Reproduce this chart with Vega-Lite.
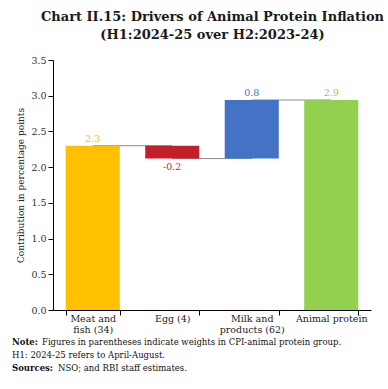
{
  "$schema": "https://vega.github.io/schema/vega-lite/v6.json",
  "padding": {"left": 12, "top": 11, "right": 6, "bottom": 4},
  "background": "white",
  "config": {"view": {"stroke": null}, "font": "DejaVu Serif"},
  "title": {
    "text": ["Chart II.15: Drivers of Animal Protein Inflation", "(H1:2024-25 over H2:2023-24)"],
    "font": "DejaVu Serif", "fontSize": 13, "fontWeight": "bold", "color": "#1a1a1a",
    "anchor": "middle", "lineHeight": 18, "offset": 13
  },
  "datasets": {
    "bars": [
      {"cat": "Meat and|fish (34)", "start": 0, "end": 2.30, "value": 2.30},
      {"cat": "Egg (4)", "start": 2.30, "end": 2.12, "value": -0.18},
      {"cat": "Milk and|products (62)", "start": 2.12, "end": 2.94, "value": 0.82},
      {"cat": "Animal protein", "start": 0, "end": 2.94, "value": 2.94}
    ],
    "links": [
      {"from": "Meat and|fish (34)", "to": "Egg (4)", "end": 2.30},
      {"from": "Egg (4)", "to": "Milk and|products (62)", "end": 2.12},
      {"from": "Milk and|products (62)", "to": "Animal protein", "end": 2.94}
    ],
    "notes": [
      {"line": 1, "prefix": "Note:", "text": "Figures in parentheses indicate weights in CPI-animal protein group."},
      {"line": 2, "prefix": "", "text": "H1: 2024-25 refers to April-August."},
      {"line": 3, "prefix": "Sources:", "text": "NSO; and RBI staff estimates."}
    ]
  },
  "spacing": 2,
  "vconcat": [
    {
      "width": 318,
      "height": 250,
      "encoding": {
        "x": {
          "field": "cat", "type": "nominal",
          "sort": ["Meat and|fish (34)", "Egg (4)", "Milk and|products (62)", "Animal protein"],
          "scale": {"domain": ["Meat and|fish (34)", "Egg (4)", "Milk and|products (62)", "Animal protein"], "paddingInner": 0.32, "paddingOuter": 0.16},
          "axis": {
            "title": null, "labelAngle": 0, "labelExpr": "split(datum.label, '|')",
            "tickBand": "extent", "domainColor": "#000", "tickColor": "#000", "tickSize": 5,
            "labelFontSize": 9.5, "labelColor": "#222", "labelPadding": -2, "labelLineHeight": 11,
            "labelFont": "DejaVu Serif"
          }
        },
        "y": {
          "field": "end", "type": "quantitative",
          "scale": {"domain": [0, 3.5]},
          "axis": {
            "values": [0, 0.5, 1, 1.5, 2, 2.5, 3, 3.5], "format": ".1f", "grid": false,
            "labelOverlap": false,
            "domainColor": "#000", "tickColor": "#000", "tickSize": 5,
            "labelFontSize": 9.5, "labelColor": "#333", "labelFont": "DejaVu Serif",
            "title": "Contribution in percentage points", "titleFontSize": 9,
            "titleFontWeight": "normal", "titleColor": "#222", "titlePadding": 5,
            "titleFont": "DejaVu Serif"
          }
        }
      },
      "layer": [
        {
          "data": {"name": "links"},
          "mark": {"type": "rule", "color": "#8c8c8c", "strokeWidth": 1},
          "encoding": {
            "x": {
              "field": "from", "type": "nominal",
              "sort": ["Meat and|fish (34)", "Egg (4)", "Milk and|products (62)", "Animal protein"]
            },
            "x2": {"field": "to"}
          }
        },
        {
          "data": {"name": "bars"},
          "mark": {"type": "bar"},
          "encoding": {
            "y2": {"field": "start"},
            "color": {
              "field": "cat", "type": "nominal",
              "scale": {
                "domain": ["Meat and|fish (34)", "Egg (4)", "Milk and|products (62)", "Animal protein"],
                "range": ["#FFC000", "#C21F2A", "#4472C4", "#92D050"]
              },
              "legend": null
            }
          }
        },
        {
          "data": {"name": "bars"},
          "transform": [
            {"filter": "datum.value >= 0"},
            {"calculate": "format(datum.value, '.1f')", "as": "lbl"}
          ],
          "mark": {"type": "text", "baseline": "bottom", "dy": -2, "fontSize": 9.5, "font": "DejaVu Serif"},
          "encoding": {
            "text": {"field": "lbl", "type": "nominal"},
            "color": {"field": "cat", "type": "nominal", "legend": null}
          }
        },
        {
          "data": {"name": "bars"},
          "transform": [
            {"filter": "datum.value < 0"},
            {"calculate": "'-' + format(abs(datum.value), '.1f')", "as": "lbl"}
          ],
          "mark": {"type": "text", "baseline": "top", "dy": 3, "fontSize": 9.5, "font": "DejaVu Serif"},
          "encoding": {
            "text": {"field": "lbl", "type": "nominal"},
            "color": {"field": "cat", "type": "nominal", "legend": null}
          }
        }
      ]
    },
    {
      "width": 360,
      "height": 38,
      "data": {"name": "notes"},
      "encoding": {
        "y": {"field": "line", "type": "ordinal", "axis": null, "scale": {"type": "point", "padding": 0.5}}
      },
      "layer": [
        {
          "mark": {"type": "text", "align": "left", "baseline": "middle", "fontSize": 8.5, "fontWeight": "bold", "dx": -41, "color": "#111", "font": "DejaVu Serif"},
          "encoding": {"x": {"value": 0}, "text": {"field": "prefix"}}
        },
        {
          "transform": [{"filter": "datum.line == 1"}],
          "mark": {"type": "text", "align": "left", "baseline": "middle", "fontSize": 8.5, "dx": -11, "color": "#111", "font": "DejaVu Serif"},
          "encoding": {"x": {"value": 0}, "text": {"field": "text"}}
        },
        {
          "transform": [{"filter": "datum.line == 2"}],
          "mark": {"type": "text", "align": "left", "baseline": "middle", "fontSize": 8.5, "dx": -41, "color": "#111", "font": "DejaVu Serif"},
          "encoding": {"x": {"value": 0}, "text": {"field": "text"}}
        },
        {
          "transform": [{"filter": "datum.line == 3"}],
          "mark": {"type": "text", "align": "left", "baseline": "middle", "fontSize": 8.5, "dx": 5, "color": "#111", "font": "DejaVu Serif"},
          "encoding": {"x": {"value": 0}, "text": {"field": "text"}}
        }
      ]
    }
  ]
}
